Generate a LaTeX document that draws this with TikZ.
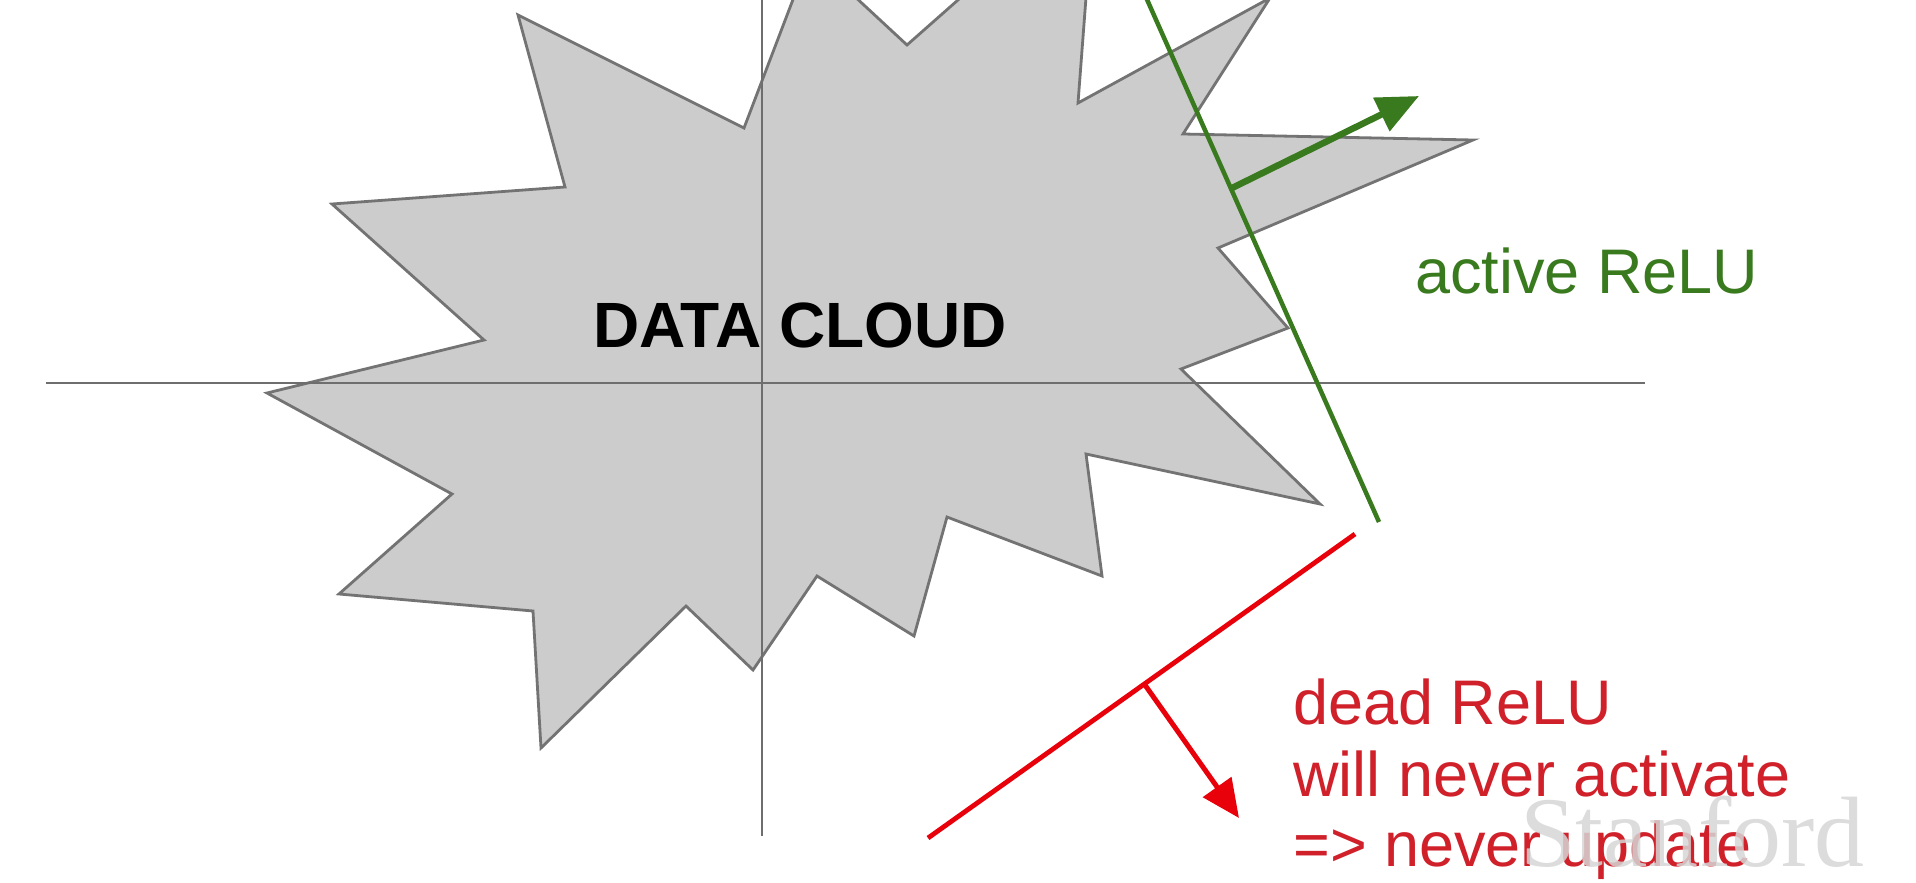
\documentclass[tikz,border=0pt]{standalone}
\usepackage{fontspec}
\setmainfont{Liberation Sans}
\newfontfamily\wmfont{Liberation Serif}
\usetikzlibrary{arrows.meta}
\definecolor{cloudfill}{HTML}{CCCCCC}
\definecolor{cloudedge}{HTML}{737373}
\definecolor{axisgray}{HTML}{6E6E6E}
\definecolor{relugreen}{HTML}{3A7A1E}
\definecolor{reluredline}{HTML}{E8000B}
\definecolor{reluredtext}{HTML}{D0202A}
\definecolor{wmgray}{HTML}{D6D6D6}
\tikzset{
  cloudshape/.style={fill=cloudfill, draw=cloudedge, line width=2.8bp, line join=miter},
  axisline/.style={draw=axisgray, line width=2.4bp},
  greenline/.style={draw=relugreen, line width=4.5bp},
  greenarrow/.style={draw=relugreen, fill=relugreen, line width=6.5bp, -{Triangle[length=42bp,width=36bp]}},
  redline/.style={draw=reluredline, line width=4.8bp},
  redarrow/.style={draw=reluredline, fill=reluredline, line width=5bp, -{Triangle[length=38bp,width=34bp]}},
  lbl/.style={inner sep=0pt, anchor=base west, font=\fontsize{63bp}{70bp}\selectfont},
}
\begin{document}
\begin{tikzpicture}[x=1bp,y=-1bp]
\fill[white] (0,0) rectangle (1916,883);
\useasboundingbox (0,0) rectangle (1916,883);
\begin{scope}
\clip (0,0) rectangle (1916,883);
\draw[cloudshape] (518,15) -- (744,128) -- (810,-45) -- (907,45) -- (1095,-121) -- (1078,103)
  -- (1270,-2) -- (1183,134) -- (1473,140) -- (1218,248) -- (1288,328) -- (1181,369)
  -- (1320,504) -- (1086,454) -- (1102,576) -- (947,517) -- (914,636) -- (817,576)
  -- (753,670) -- (686,606) -- (541,748) -- (533,611) -- (339,594) -- (452,494)
  -- (267,393) -- (484,340) -- (332,204) -- (565,187) -- cycle;

\node[inner sep=0pt, anchor=base, font=\fontsize{64bp}{70bp}\selectfont\bfseries] (cloudlabel) at (800,347) {DATA CLOUD};

\coordinate (hL) at (46,383);
\coordinate (hR) at (1645,383);
\coordinate (vT) at (762,-5);
\coordinate (vB) at (762,836);
\draw[axisline] (hL) -- (hR);
\draw[axisline] (vT) -- (vB);

\coordinate (gT) at (1145,-5);
\coordinate (gB) at (1379,522);
\coordinate (gA) at (1232,188);
\coordinate (gH) at (1419,96);
\draw[greenline] (gT) -- (gB);
\draw[greenarrow] (gA) -- (gH);

\coordinate (rB) at (928,838);
\coordinate (rT) at (1355,534);
\coordinate (rA) at (1145,685);
\coordinate (rH) at (1239,818);
\draw[redline] (rB) -- (rT);
\draw[redarrow] (rA) -- (rH);

\node[lbl, text=relugreen] (active) at (1415,293) {active ReLU};
\node[lbl, text=reluredtext] (dead1) at (1293,724) {dead ReLU};
\node[lbl, text=reluredtext] (dead2) at (1293,796) {will never activate};
\node[lbl, text=reluredtext] (dead3) at (1293,866) {=> never update};

\node[inner sep=0pt, anchor=base west, text=wmgray, opacity=0.85, font=\fontsize{100bp}{110bp}\selectfont\wmfont] (wm) at (1520,866) {Stanford};
\end{scope}
\end{tikzpicture}
\end{document}
